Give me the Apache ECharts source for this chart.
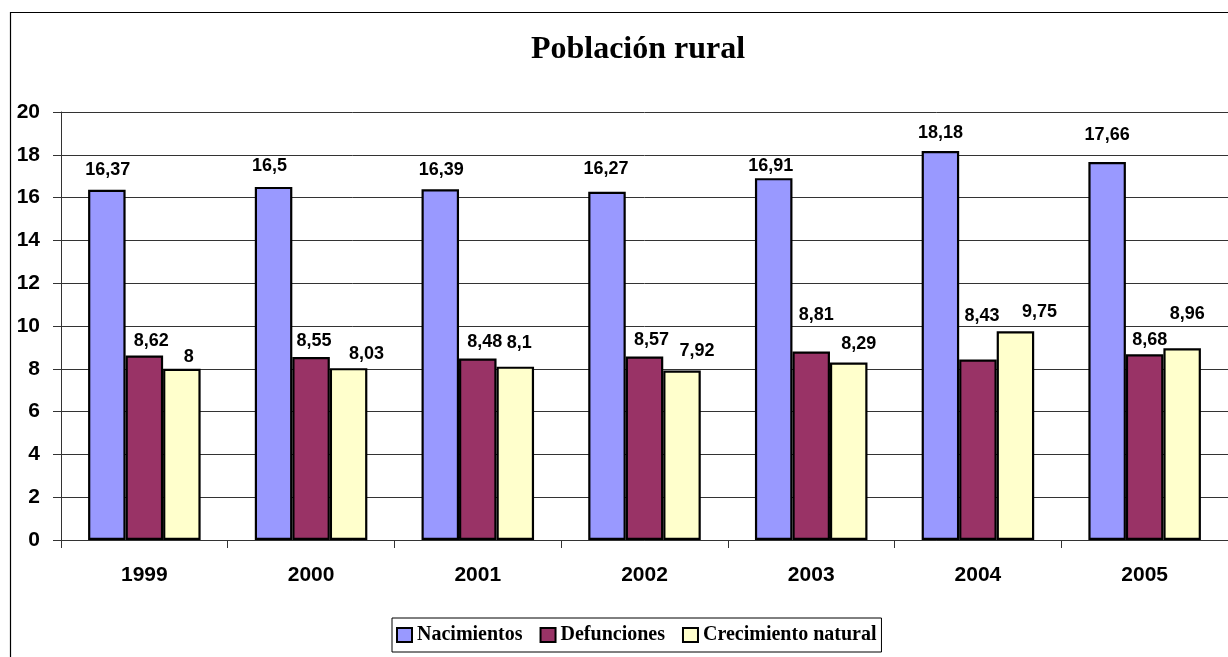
<!DOCTYPE html>
<html>
<head>
<meta charset="utf-8">
<script src="https://cdn.jsdelivr.net/npm/echarts@6/dist/echarts.min.js"></script>
<style>
html,body{margin:0;padding:0;background:#fff;}
#chart{width:1228px;height:657px;}
</style>
</head>
<body>
<div id="chart"></div>
<script>
const years = ['1999', '2000', '2001', '2002', '2003', '2004', '2005'];
const nacimientos = [16.37, 16.5, 16.39, 16.27, 16.91, 18.18, 17.66];
const defunciones = [8.62, 8.55, 8.48, 8.57, 8.81, 8.43, 8.68];
const crecimiento = [8, 8.03, 8.1, 7.92, 8.29, 9.75, 8.96];
const seriesNames = ['Nacimientos', 'Defunciones', 'Crecimiento natural'];
const yTicks = [0, 2, 4, 6, 8, 10, 12, 14, 16, 18, 20];

// label nudges (style only), [dx, dy] per bar
const nudgeNac = [[1,-10.5],[-4,-11.5],[1,-10.5],[-1,-13.5],[-3,-3.5],[0,-8.5],[0,-18.5]];
const nudgeDef = [[7,-5.5],[3,-6.5],[7,-7.5],[7,-7.5],[5,-27.5],[4,-34.5],[5,-5.5]];
const nudgeCre = [[7,-2.5],[18,-5.5],[4,-14.5],[15,-10.5],[10,-9.5],[24,-10.5],[5,-25.5]];

const colors = ['#9999FF', '#993366', '#FFFFCC'];

function fmt(v) { return String(v).replace('.', ','); }

function buildSeries(name, values, nudges, color) {
  return {
    name: name,
    type: 'bar',
    barGap: '0%',
    barCategoryGap: '32.5%',
    itemStyle: { color: color, borderColor: '#000', borderWidth: 2.2 },
    data: values.map((v, i) => ({
      value: v,
      label: { offset: nudges[i] }
    })),
    label: {
      show: true,
      position: 'top',
      distance: 0,
      formatter: p => fmt(p.value),
      fontFamily: '"Liberation Sans", Arial, sans-serif',
      fontWeight: 'bold',
      fontSize: 18,
      color: '#000'
    },
    emphasis: { disabled: true }
  };
}

const chart = echarts.init(document.getElementById('chart'), null, { renderer: 'canvas' });
chart.setOption({
  animation: false,
  backgroundColor: '#fff',
  graphic: [
    {
      type: 'rect',
      shape: { x: 10.5, y: 12.5, width: 1400, height: 800 },
      style: { fill: 'none', stroke: '#000', lineWidth: 1.2 },
      silent: true, z: 0
    },
    {
      type: 'text',
      x: 638, y: 50,
      style: {
        text: 'Población rural',
        font: 'bold 32px "Liberation Serif", "Times New Roman", serif',
        fill: '#000',
        textAlign: 'center',
        textVerticalAlign: 'middle'
      },
      silent: true
    }
  ],
  legend: {
    left: 392,
    top: 618,
    orient: 'horizontal',
    itemWidth: 15,
    itemHeight: 14,
    itemGap: 17,
    padding: [7, 5, 7, 4],
    borderColor: '#000',
    borderWidth: 1,
    icon: 'rect',
    data: seriesNames,
    textStyle: {
      fontFamily: '"Liberation Serif", "Times New Roman", serif',
      fontWeight: 'bold',
      fontSize: 20,
      color: '#000'
    },
    itemStyle: { borderColor: '#000', borderWidth: 2 }
  },
  grid: { left: 61, right: 0, top: 112, bottom: 117, containLabel: false },
  xAxis: {
    type: 'category',
    data: years,
    boundaryGap: true,
    axisLine: { show: true, lineStyle: { color: '#333', width: 1 } },
    axisTick: { show: true, length: 8, lineStyle: { color: '#333' } },
    axisLabel: {
      margin: 25,
      fontFamily: '"Liberation Sans", Arial, sans-serif',
      fontWeight: 'bold',
      fontSize: 21,
      color: '#000'
    },
    splitLine: { show: false }
  },
  yAxis: {
    type: 'value',
    min: yTicks[0],
    max: yTicks[yTicks.length - 1],
    interval: 2,
    axisLine: { show: true, lineStyle: { color: '#333', width: 1 } },
    axisTick: { show: true, length: 8, lineStyle: { color: '#333' } },
    axisLabel: {
      margin: 21,
      fontFamily: '"Liberation Sans", Arial, sans-serif',
      fontWeight: 'bold',
      fontSize: 21,
      color: '#000'
    },
    splitLine: { show: true, lineStyle: { color: '#333', width: 1 } }
  },
  series: [
    buildSeries(seriesNames[0], nacimientos, nudgeNac, colors[0]),
    buildSeries(seriesNames[1], defunciones, nudgeDef, colors[1]),
    buildSeries(seriesNames[2], crecimiento, nudgeCre, colors[2])
  ]
});
</script>
</body>
</html>
